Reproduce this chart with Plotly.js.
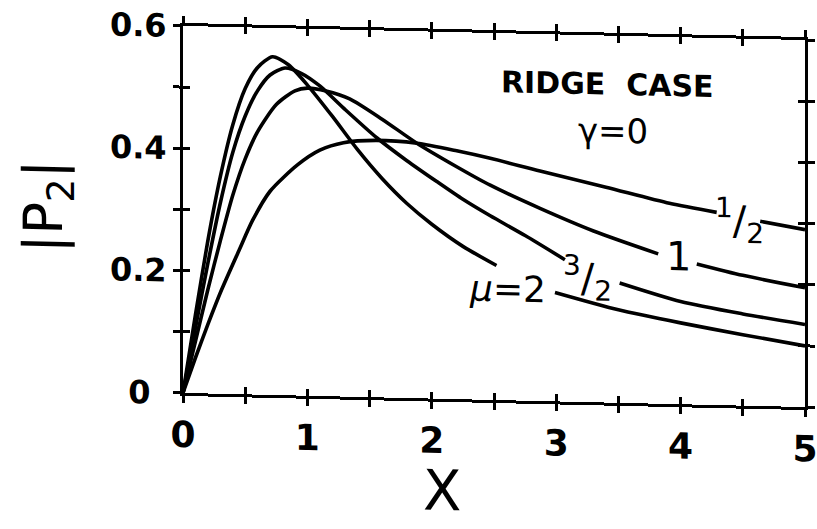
<!DOCTYPE html>
<html>
<head>
<meta charset="utf-8">
<script src="https://cdn.plot.ly/plotly-3.0.1.min.js"></script>
<style>
  html, body { margin: 0; padding: 0; background: #fff; overflow: hidden; }
  /* the printed figure sits slightly askew on the page */
  #chart { width: 817px; height: 529px; transform: skewY(1.3deg); transform-origin: 494px 216px; }
</style>
</head>
<body>
<div id="chart"></div>
<script>
// |P2| against X for the ridge case (gamma = 0), one curve per mu.
const xHalf = [0, 0.1, 0.2, 0.31, 0.45, 0.56, 0.7, 0.92, 1.1, 1.29, 1.55, 1.88, 2.2, 2.47, 2.87, 3.4, 3.91, 4.29, 4.64, 5.0];
const yHalf = [0, 0.058, 0.113, 0.17, 0.235, 0.285, 0.333, 0.377, 0.402, 0.415, 0.42, 0.417, 0.406, 0.395, 0.376, 0.352, 0.328, 0.315, 0.302, 0.29];

const xOne = [0, 0.1, 0.2, 0.3, 0.4, 0.5, 0.6, 0.75, 0.9, 1.0, 1.15, 1.34, 1.6, 1.88, 2.2, 2.47, 2.87, 3.3, 3.82, 4.13, 4.5, 5.0];
const yOne = [0, 0.085, 0.17, 0.25, 0.325, 0.385, 0.43, 0.475, 0.498, 0.503, 0.499, 0.487, 0.455, 0.417, 0.38, 0.351, 0.315, 0.28, 0.245, 0.23, 0.213, 0.195];

const xThreeHalves = [0, 0.1, 0.2, 0.3, 0.4, 0.5, 0.6, 0.7, 0.82, 0.95, 1.1, 1.3, 1.56, 1.8, 2.04, 2.25, 2.47, 2.75, 3.07, 3.51, 4.0, 4.5, 5.0];
const yThreeHalves = [0, 0.107, 0.213, 0.312, 0.395, 0.455, 0.497, 0.523, 0.535, 0.527, 0.507, 0.47, 0.424, 0.388, 0.355, 0.327, 0.301, 0.27, 0.232, 0.196, 0.168, 0.15, 0.135];

const xTwo = [0, 0.1, 0.2, 0.3, 0.4, 0.5, 0.6, 0.72, 0.85, 1.0, 1.2, 1.4, 1.6, 1.8, 2.0, 2.25, 2.52, 2.99, 3.5, 4.0, 4.5, 5.0];
const yTwo = [0, 0.128, 0.25, 0.355, 0.44, 0.5, 0.535, 0.553, 0.54, 0.508, 0.458, 0.405, 0.358, 0.318, 0.285, 0.25, 0.22, 0.178, 0.152, 0.133, 0.116, 0.1];

// Where each curve is interrupted to make room for its mu label.
const gapHalf = [4.29, 4.64];
const gapOne = [3.82, 4.13];
const gapThreeHalves = [3.07, 3.51];
const gapTwo = [2.52, 2.99];

// Axis ticks (labelled) and the spacing of the unlabelled ticks between them
const xTickVals = [0, 1, 2, 3, 4, 5];
const xTickText = ['0', '1', '2', '3', '4', '5'];
const xMinorStep = 0.5;
const yTickVals = [0, 0.2, 0.4, 0.6];
const yTickText = ['0\u2002', '0.2', '0.4', '0.6'];
const yMinorStep = 0.1;
const xRange = [0, 5];
const yRange = [0, 0.6];

function broken(xs, ys, gap) {
  const X = [], Y = [];
  for (let i = 0; i < xs.length; i++) {
    X.push(xs[i]); Y.push(ys[i]);
    if (xs[i] === gap[0]) { X.push(null); Y.push(null); }
  }
  return { X, Y };
}

const FONT = '"DejaVu Sans", "Liberation Sans", sans-serif';
const INK = '#000';

function curve(xs, ys, gap, name) {
  const b = broken(xs, ys, gap);
  return {
    x: b.X, y: b.Y, name: name, type: 'scatter', mode: 'lines',
    line: { color: INK, width: 3.6, shape: 'spline', smoothing: 0.7 },
    connectgaps: false, hoverinfo: 'skip', showlegend: false
  };
}

const traces = [
  curve(xHalf, yHalf, gapHalf, 'μ=1/2'),
  curve(xOne, yOne, gapOne, 'μ=1'),
  curve(xThreeHalves, yThreeHalves, gapThreeHalves, 'μ=3/2'),
  curve(xTwo, yTwo, gapTwo, 'μ=2'),
  // empty trace that carries the second (inward-tick) pair of axes
  { x: [], y: [], xaxis: 'x2', yaxis: 'y2', type: 'scatter', mode: 'lines',
    hoverinfo: 'skip', showlegend: false }
];

function axis(side, range, vals, text, step, extra) {
  return Object.assign({
    range: range, showgrid: false, zeroline: false, showline: true,
    linecolor: INK, linewidth: 3, mirror: 'ticks',
    ticks: side, tickcolor: INK, tickwidth: 3, ticklen: 7,
    tickmode: 'array', tickvals: vals, ticktext: text,
    minor: { tickmode: 'linear', tick0: 0, dtick: step, ticks: side,
             ticklen: 7, tickwidth: 3, tickcolor: INK, showgrid: false }
  }, extra);
}

const layout = {
  width: 817, height: 529,
  margin: { l: 183, r: 12, t: 33, b: 129 },
  paper_bgcolor: '#fff', plot_bgcolor: '#fff',
  font: { family: FONT, color: INK },
  xaxis: axis('outside', xRange, xTickVals, xTickText, xMinorStep, {
    tickfont: { family: FONT, size: 36, weight: 'bold' },
    ticklabelstandoff: 1, ticklabeloverflow: 'allow'
  }),
  xaxis2: axis('inside', xRange, xTickVals, xTickText, xMinorStep, {
    overlaying: 'x', anchor: 'y2', showticklabels: false
  }),
  yaxis: axis('outside', yRange, yTickVals, yTickText, yMinorStep, {
    tickfont: { family: FONT, size: 32, weight: 'bold' },
    ticklabelstandoff: 0, ticklabeloverflow: 'allow',
    title: { text: '|P<sub>2</sub>|', font: { family: FONT, size: 54 }, standoff: 30 }
  }),
  yaxis2: axis('inside', yRange, yTickVals, yTickText, yMinorStep, {
    overlaying: 'y', anchor: 'x2', showticklabels: false
  }),
  annotations: [
    { x: 2.08, y: -0.343, xref: 'x', yref: 'paper', yanchor: 'bottom', text: 'X',
      showarrow: false, font: { family: FONT, size: 56 } },
    { x: 3.41, y: 0.52, text: 'RIDGE\u00a0\u00a0CASE', showarrow: false,
      font: { family: FONT, size: 30, weight: 'bold' } },
    { x: 3.46, y: 0.444, text: 'γ=0', showarrow: false,
      font: { family: FONT, size: 34 } },
    { x: 4.47, y: 0.302, text: '<sup>1</sup>/<sub>2</sub>', showarrow: false,
      font: { family: FONT, size: 40 } },
    { x: 3.98, y: 0.242, text: '1', showarrow: false,
      font: { family: FONT, size: 40 } },
    { x: 3.25, y: 0.202, text: '<sup>3</sup>/<sub>2</sub>', showarrow: false,
      font: { family: FONT, size: 40 } },
    { x: 2.61, y: 0.182, text: '<i>μ</i>=2', showarrow: false,
      font: { family: FONT, size: 36 } }
  ]
};

Plotly.newPlot('chart', traces, layout, { staticPlot: true, displayModeBar: false });
</script>
</body>
</html>
